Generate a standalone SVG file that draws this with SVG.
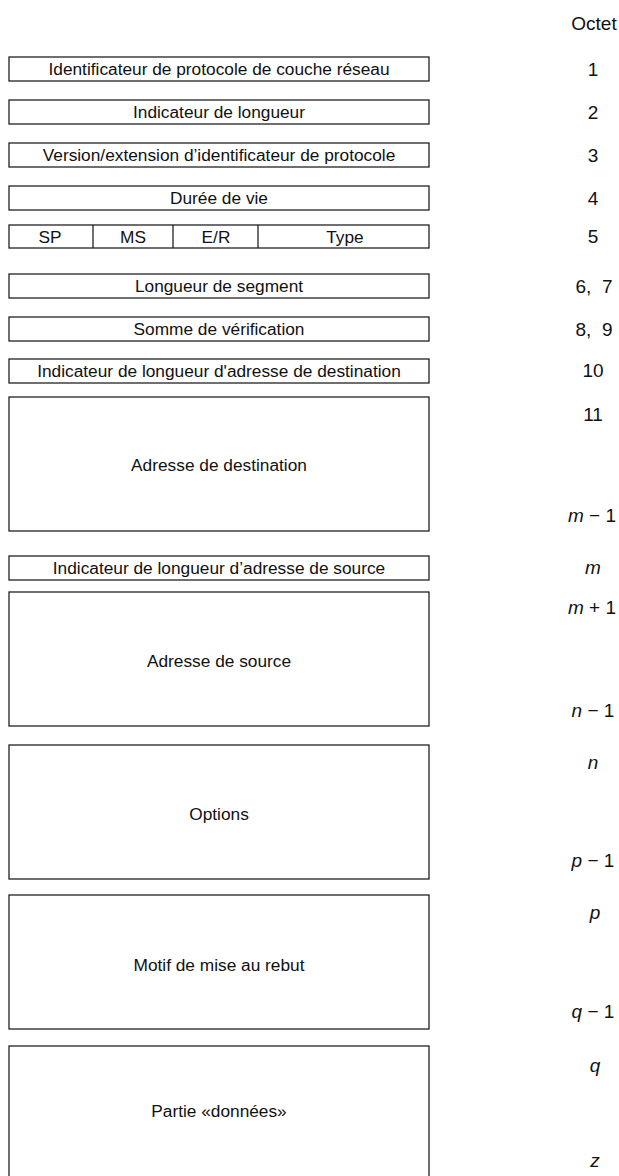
<svg xmlns="http://www.w3.org/2000/svg" width="619" height="1176" viewBox="0 0 619 1176">
<style>
rect.f{fill:#fff;stroke:#222;stroke-width:1.3}
line.d{stroke:#222;stroke-width:1.3}
text{font-family:"Liberation Sans",Arial,sans-serif;font-size:17.3px;fill:#111;dominant-baseline:central}
.r{font-size:19px}
.c{text-anchor:middle}
.i{font-style:italic}
</style>
<rect width="619" height="1176" fill="#fff"/>
<text x="594" y="23" class="c r">Octet</text>
<g id="connectors"></g>
<g id="f1"><rect class="f" x="9" y="57" width="420" height="24"/><text x="219" y="69" class="c">Identificateur de protocole de couche réseau</text><text x="593" y="69" class="c r">1</text></g>
<g id="f2"><rect class="f" x="9" y="100" width="420" height="24"/><text x="219" y="112" class="c">Indicateur de longueur</text><text x="593" y="112" class="c r">2</text></g>
<g id="f3"><rect class="f" x="9" y="143" width="420" height="24"/><text x="219" y="155" class="c">Version/extension d’identificateur de protocole</text><text x="593" y="155" class="c r">3</text></g>
<g id="f4"><rect class="f" x="9" y="186" width="420" height="24"/><text x="219" y="198" class="c">Durée de vie</text><text x="593" y="198" class="c r">4</text></g>
<g id="f5"><rect class="f" x="9" y="225" width="420" height="23"/><line class="d" x1="93" y1="225" x2="93" y2="248"/><line class="d" x1="173" y1="225" x2="173" y2="248"/><line class="d" x1="258" y1="225" x2="258" y2="248"/><text x="50" y="237" class="c">SP</text><text x="133" y="237" class="c">MS</text><text x="216" y="237" class="c">E/R</text><text x="345" y="237" class="c">Type</text><text x="593" y="236" class="c r">5</text></g>
<g id="f6"><rect class="f" x="9" y="274" width="420" height="24"/><text x="219" y="286" class="c">Longueur de segment</text><text x="594" y="286" class="c r" xml:space="preserve">6,  7</text></g>
<g id="f7"><rect class="f" x="9" y="317" width="420" height="24"/><text x="219" y="329" class="c">Somme de vérification</text><text x="594" y="329" class="c r" xml:space="preserve">8,  9</text></g>
<g id="f8"><rect class="f" x="9" y="359" width="420" height="24"/><text x="219" y="371" class="c">Indicateur de longueur d'adresse de destination</text><text x="593" y="370" class="c r">10</text></g>
<g id="f9"><rect class="f" x="9" y="397" width="420" height="134"/><text x="219" y="465" class="c">Adresse de destination</text><text x="593" y="414" class="c r">11</text><text x="592" y="515" class="c r"><tspan class="i">m</tspan> − 1</text></g>
<g id="f10"><rect class="f" x="9" y="556" width="420" height="24"/><text x="219" y="568" class="c">Indicateur de longueur d’adresse de source</text><text x="593" y="567" class="c r i">m</text></g>
<g id="f11"><rect class="f" x="9" y="592" width="420" height="134"/><text x="219" y="661" class="c">Adresse de source</text><text x="592" y="607" class="c r"><tspan class="i">m</tspan> + 1</text><text x="593" y="710" class="c r"><tspan class="i">n</tspan> − 1</text></g>
<g id="f12"><rect class="f" x="9" y="745" width="420" height="134"/><text x="219" y="814" class="c">Options</text><text x="593" y="762" class="c r i">n</text><text x="593" y="860" class="c r"><tspan class="i">p</tspan> − 1</text></g>
<g id="f13"><rect class="f" x="9" y="895" width="420" height="134"/><text x="219" y="965" class="c">Motif de mise au rebut</text><text x="595" y="912" class="c r i">p</text><text x="593" y="1011" class="c r"><tspan class="i">q</tspan> − 1</text></g>
<g id="f14"><rect class="f" x="9" y="1046" width="420" height="140"/><text x="219" y="1111" class="c">Partie «données»</text><text x="595" y="1065" class="c r i">q</text><text x="595" y="1160" class="c r i">z</text></g>
</svg>
